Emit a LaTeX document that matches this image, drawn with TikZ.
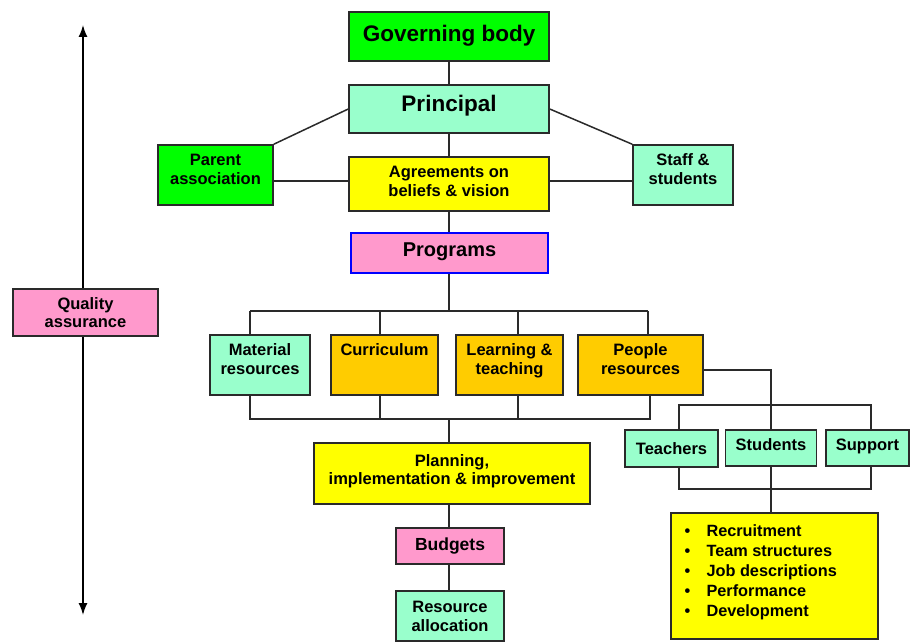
\documentclass[tikz,border=0pt]{standalone}
\usepackage{fontspec}
\setmainfont{Liberation Sans}
\usetikzlibrary{arrows.meta}
\definecolor{bgreen}{HTML}{00FF00}
\definecolor{mint}{HTML}{99FFCC}
\definecolor{byellow}{HTML}{FFFF00}
\definecolor{pinkish}{HTML}{FF99CC}
\definecolor{amber}{HTML}{FFCC00}
\definecolor{edge}{HTML}{2A2A2A}
\tikzset{
  box/.style={draw=edge, line width=1.5pt, align=center, inner sep=2pt,
    font=\bfseries\fontsize{16.5}{18.8}\selectfont},
  big/.style={font=\bfseries\fontsize{22.5}{26}\selectfont},
  mid/.style={font=\bfseries\fontsize{20}{24}\selectfont},
  small/.style={font=\bfseries\fontsize{17.5}{21}\selectfont},
  lift/.style={execute at end node={\raisebox{0pt}[0pt][#1]{}}},
  lift/.default=12pt,
  wire/.style={draw=edge, line width=1.5pt},
}
\begin{document}
\begin{tikzpicture}[x=1pt,y=-1pt]
\useasboundingbox (0,0) rectangle (917,642);

% top of the hierarchy
\node[box, big, lift=7pt, fill=bgreen, minimum width=200, minimum height=49] (gov) at (449,36.5) {Governing body};
\node[box, big, lift=12pt, fill=mint, minimum width=200, minimum height=48] (prin) at (449,109) {Principal};
\node[box, lift, fill=bgreen, minimum width=115, minimum height=60] (par) at (215.5,175) {Parent\\association};
\node[box, lift=6pt, fill=byellow, minimum width=200, minimum height=54] (agr) at (449,184) {Agreements on\\beliefs \& vision};
\node[box, lift, fill=mint, minimum width=100, minimum height=60] (stf) at (683,175) {Staff \&\\students};
\node[box, mid, lift=6pt, draw=blue, fill=pinkish, minimum width=197, minimum height=40] (prog) at (449.5,253) {Programs};

% quality axis
\node[box, fill=pinkish, minimum width=145, minimum height=47] (qa) at (85.5,312.5) {Quality\\assurance};
\coordinate (qtop) at (83,25);
\coordinate (qbot) at (83,615);

% program areas
\node[box, lift, fill=mint, minimum width=100, minimum height=60] (mat) at (260,365) {Material\\resources};
\node[box, lift, fill=amber, minimum width=107, minimum height=60] (cur) at (384.5,365) {Curriculum\\[0pt]\mbox{}};
\node[box, lift, fill=amber, minimum width=107, minimum height=60] (lrn) at (509.5,365) {Learning \&\\teaching};
\node[box, lift, fill=amber, minimum width=125, minimum height=60] (ppl) at (640.5,365) {People\\resources};

% planning chain
\node[box, lift=8pt, fill=byellow, minimum width=276, minimum height=61] (plan) at (452,473.5) {Planning,\\implementation \& improvement};
\node[box, small, fill=pinkish, minimum width=108, minimum height=36] (bud) at (450,546) {Budgets};
\node[box, fill=mint, minimum width=108, minimum height=50] (res) at (450,616) {Resource\\allocation};

% people branch
\node[box, fill=mint, minimum width=93, minimum height=37] (tea) at (671.5,448.5) {Teachers};
\node[box, lift=6pt, fill=mint, minimum width=91, minimum height=36] (stu) at (771,448) {Students};
\node[box, lift=6pt, fill=mint, minimum width=83, minimum height=36] (sup) at (867.5,448) {Support};
\node[box, fill=byellow, minimum width=207, minimum height=126, inner sep=0pt] (lst) at (774.5,576)
  {\begin{minipage}[c][120pt][t]{196pt}\raggedright\fontsize{16.3}{20}\selectfont\vspace{9pt}%
   \hspace*{8pt}\makebox[22pt][l]{\textbullet}Recruitment\\
   \hspace*{8pt}\makebox[22pt][l]{\textbullet}Team structures\\
   \hspace*{8pt}\makebox[22pt][l]{\textbullet}Job descriptions\\
   \hspace*{8pt}\makebox[22pt][l]{\textbullet}Performance\\
   \hspace*{8pt}\makebox[22pt][l]{\textbullet}Development\end{minipage}};

% bus points
\coordinate (u1) at (250,311); \coordinate (u2) at (380,311);
\coordinate (u3) at (518,311); \coordinate (u4) at (648,311);
\coordinate (l1) at (250,419); \coordinate (l2) at (380,419);
\coordinate (l3) at (518,419); \coordinate (l4) at (650,419);
\coordinate (t1) at (679,405); \coordinate (t2) at (871,405);
\coordinate (b1) at (679,489); \coordinate (b2) at (871,489);
\coordinate (mx) at (449,0);

\begin{scope}[every path/.style={wire}]
  \draw (gov.south -| mx) -- (prin.north -| mx);
  \draw (prin.south -| mx) -- (agr.north -| mx);
  \draw (prin.west) -- (par.north east);
  \draw (prin.east) -- (stf.north west);
  \draw ([yshift=3pt]agr.west) -- ([yshift=3pt]agr.west -| par.east);
  \draw ([yshift=3pt]agr.east) -- ([yshift=3pt]agr.east -| stf.west);
  \draw (agr.south -| mx) -- (prog.north -| mx);
  \draw (prog.south -| mx) -- (u1 -| mx);
  \draw (u1) -- (u4);
  \draw (u1) -- (u1 |- mat.north);
  \draw (u2) -- (u2 |- cur.north);
  \draw (u3) -- (u3 |- lrn.north);
  \draw (u4) -- (u4 |- ppl.north);
  \draw (l1 |- mat.south) -- (l1) -- (l4) -- (l4 |- ppl.south);
  \draw (l2 |- cur.south) -- (l2);
  \draw (l3 |- lrn.south) -- (l3);
  \draw (l1 -| mx) -- (plan.north -| mx);
  \draw (plan.south -| mx) -- (bud.north -| mx);
  \draw (bud.south -| mx) -- (res.north -| mx);
  \draw ([yshift=-5pt]ppl.east) -| (stu.north);
  \draw (t1 |- tea.north) -- (t1) -- (t2) -- (t2 |- sup.north);
  \draw (b1 |- tea.south) -- (b1) -- (b2) -- (b2 |- sup.south);
  \draw (stu.south) -- (stu.south |- lst.north);
  \draw[draw=black, -{Latex[length=12pt,width=9pt]}] (qa.north -| qtop) -- (qtop);
  \draw[draw=black, -{Latex[length=12pt,width=9pt]}] (qa.south -| qbot) -- (qbot);
\end{scope}
\end{tikzpicture}
\end{document}
